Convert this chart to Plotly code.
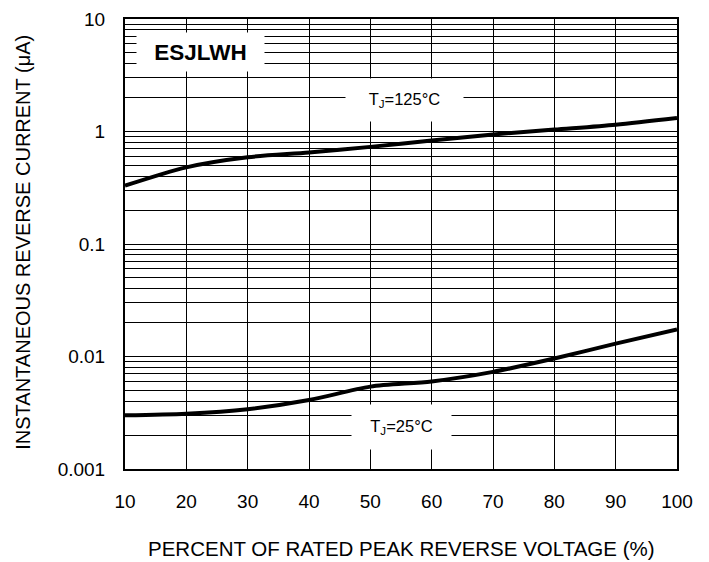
import plotly.graph_objects as go

# Percent of rated peak reverse voltage
voltage_pct = [10, 20, 30, 40, 50, 60, 70, 80, 90, 100]

# Instantaneous reverse current (uA)
current_125c = [0.33, 0.48, 0.59, 0.65, 0.73, 0.83, 0.94, 1.04, 1.15, 1.32]
current_25c = [0.0030, 0.0031, 0.0034, 0.0041, 0.0054, 0.0060, 0.0073, 0.0096, 0.0130, 0.0174]

y_tick_vals = [0.001, 0.01, 0.1, 1, 10]
y_tick_text = ["0.001", "0.01", "0.1", "1", "10"]
x_tick_vals = [10, 20, 30, 40, 50, 60, 70, 80, 90, 100]

minor_vals = [m * 10 ** e for e in range(-3, 1) for m in range(2, 10)]

FONT = "Liberation Sans, Arial, sans-serif"

fig = go.Figure()
for ys in (current_125c, current_25c):
    fig.add_trace(go.Scatter(
        x=voltage_pct, y=ys, mode="lines",
        line=dict(color="black", width=4, shape="spline", smoothing=0.8),
        showlegend=False, hoverinfo="skip",
    ))

fig.update_layout(
    width=709, height=562,
    margin=dict(l=125, r=32, t=19, b=93),
    paper_bgcolor="white", plot_bgcolor="white",
    font=dict(family=FONT, size=19, color="black"),
    xaxis=dict(
        range=[10, 100], tickvals=x_tick_vals,
        showgrid=True, gridcolor="black", gridwidth=1,
        showline=True, linecolor="black", linewidth=2, mirror=True,
        ticks="outside", ticklen=0, ticklabelstandoff=14,
        tickfont=dict(size=19), automargin=False,
        zeroline=False,
    ),
    yaxis=dict(
        type="log", range=[-3, 1],
        tickvals=y_tick_vals, ticktext=y_tick_text,
        showgrid=True, gridcolor="black", gridwidth=1,
        minor=dict(tickvals=minor_vals, showgrid=True,
                   gridcolor="black", gridwidth=1, ticklen=0),
        showline=True, linecolor="black", linewidth=2, mirror=True,
        ticks="outside", ticklen=0, ticklabelstandoff=14,
        tickfont=dict(size=19), automargin=False,
        zeroline=False,
    ),
)

# Axis titles
fig.add_annotation(
    text="PERCENT OF RATED PEAK REVERSE VOLTAGE (%)",
    xref="paper", yref="paper", x=0.5, y=-0.1756,
    xanchor="center", yanchor="middle", showarrow=False,
    font=dict(family=FONT, size=20.5, color="black"),
)
fig.add_annotation(
    text="INSTANTANEOUS REVERSE CURRENT (μA)",
    xref="paper", yref="paper", x=-0.1848, y=0.505, textangle=-90,
    xanchor="center", yanchor="middle", showarrow=False,
    font=dict(family=FONT, size=20, color="black"),
)

# Curve labels and device name
labels = [
    dict(text="<b>ESJLWH</b>", x=22.3, y=0.705, w=125, h=36, size=22.5),
    dict(text="T<sub>J</sub>=125°C", x=55.6, y=0.277, w=115, h=40, size=16.5),
    dict(text="T<sub>J</sub>=25°C", x=55.1, y=-2.625, w=97, h=42, size=16.5),
]
for lb in labels:
    fig.add_annotation(
        text=lb["text"], x=lb["x"], y=lb["y"], xref="x", yref="y",
        showarrow=False, bgcolor="white", width=lb["w"], height=lb["h"],
        font=dict(family=FONT, size=lb["size"], color="black"),
        xanchor="center", yanchor="middle", valign="middle",
    )

fig.write_html("out.html")
